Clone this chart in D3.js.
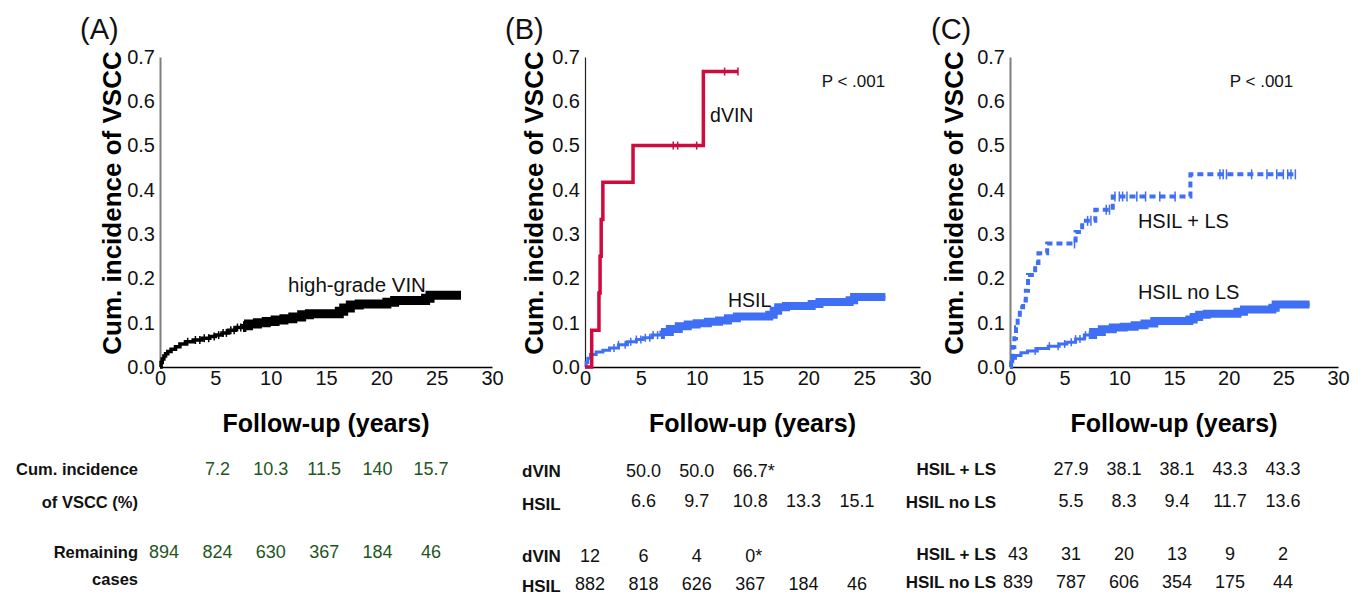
<!DOCTYPE html>
<html>
<head>
<meta charset="utf-8">
<script src="https://cdn.jsdelivr.net/npm/d3@7"></script>
<style>
  body { margin: 0; background: #fff; }
  svg text { font-family: "Liberation Sans", Arial, sans-serif; }
</style>
</head>
<body>
<svg id="chart" width="1363" height="595"></svg>
<script>
// ---- data ----
const yTicks = [0, 0.1, 0.2, 0.3, 0.4, 0.5, 0.6, 0.7];
const xTicks = [0, 5, 10, 15, 20, 25, 30];
const tableYears = [0, 5, 10, 15, 20, 25];

// (A) high-grade VIN, [years, cumulative incidence]
const hgvinSteps = [[0,0],[0.1,0.01],[0.2,0.018],[0.35,0.025],[0.5,0.03],[0.7,0.035],[1,0.04],[1.4,0.046],
  [1.8,0.052],[2.3,0.057],[3,0.061],[3.8,0.065],[4.5,0.069],[5,0.072],[5.6,0.077],[6.2,0.083],[6.8,0.089],
  [7.4,0.093],[8,0.097],[8.8,0.1],[9.6,0.103],[10.4,0.106],[11.2,0.109],[12,0.113],[12.8,0.118],[13.5,0.12],
  [16.2,0.126],[16.6,0.133],[17.2,0.14],[18,0.142],[20.5,0.146],[21.2,0.15],[24,0.155],[24.4,0.162],[27.2,0.162]];
const hgvinCensor = [2.5, 3.2, 3.6, 4.0, 4.4, 4.9, 5.3, 5.7, 6.0, 6.4, 6.7, 7.0, 7.3];
const hgvinDense = [7.5, 27.2];

// (B) dVIN and HSIL
const dvinSteps = [[0,0],[0.6,0.083],[1.25,0.167],[1.35,0.25],[1.45,0.333],[1.6,0.417],[4.3,0.5],[10.6,0.667],[13.7,0.667]];
const dvinCensor = [1.3, 7.9, 8.3, 10.0, 12.5, 13.7];
const hsilSteps = [[0,0],[0.1,0.01],[0.25,0.02],[0.5,0.028],[1,0.034],[1.6,0.038],[2.2,0.043],[3,0.05],[3.8,0.057],
  [4.6,0.062],[5.2,0.066],[6,0.072],[6.8,0.079],[7.6,0.086],[8.4,0.092],[9.2,0.096],[10,0.099],[11,0.102],[12,0.105],
  [12.8,0.11],[13.6,0.114],[16.5,0.118],[16.9,0.127],[17.3,0.135],[18,0.138],[20.3,0.142],[21,0.147],[23.7,0.151],
  [24.1,0.158],[26.9,0.158]];
const hsilCensor = [2.6, 3.0, 3.6, 4.1, 4.6, 5.0, 5.4, 5.8, 6.1, 6.5];
const hsilDense = [6.8, 26.9];

// (C) HSIL with / without lichen sclerosus
const lsSteps = [[0,0],[0.1,0.02],[0.25,0.045],[0.4,0.065],[0.55,0.09],[0.7,0.11],[0.9,0.135],[1.2,0.15],[1.45,0.172],
  [1.65,0.208],[2.3,0.235],[2.6,0.257],[3.4,0.279],[6.0,0.305],[6.6,0.33],[7.8,0.355],[9.4,0.385],[16.5,0.435],[26.1,0.435]];
const lsCensor = [5.9, 7.1, 7.4, 8.8, 9.1, 9.6, 10.0, 10.3, 10.7, 11.6, 12.4, 13.7, 15.1,
  19.2, 19.5, 19.8, 22.1, 23.5, 24.4, 25.0, 25.4, 25.7, 26.1];
const noLsSteps = [[0,0],[0.1,0.012],[0.25,0.02],[0.5,0.026],[1,0.032],[1.6,0.036],[2.5,0.042],[3.5,0.047],[4.5,0.052],
  [5.2,0.056],[6,0.063],[6.8,0.072],[7.6,0.079],[8.4,0.085],[9.4,0.089],[10.4,0.091],[11.4,0.094],[12.3,0.098],
  [13.2,0.104],[16.4,0.107],[16.8,0.113],[17.3,0.118],[18,0.12],[20.8,0.125],[21.4,0.13],[24,0.134],[24.3,0.141],[27.4,0.141]];
const noLsCensor = [2.3, 3.6, 4.4, 5.0, 5.6, 6.0, 6.4, 6.9];
const noLsDense = [7.2, 27.4];

// tables under the plots
const aIncidence = [null, "7.2", "10.3", "11.5", "140", "15.7"];
const aRemaining = ["894", "824", "630", "367", "184", "46"];
const bIncDvin = [null, "50.0", "50.0", "66.7*", null, null];
const bIncHsil = [null, "6.6", "9.7", "10.8", "13.3", "15.1"];
const bRemDvin = ["12", "6", "4", "0*", null, null];
const bRemHsil = ["882", "818", "626", "367", "184", "46"];
const cIncLs = [null, "27.9", "38.1", "38.1", "43.3", "43.3"];
const cIncNoLs = [null, "5.5", "8.3", "9.4", "11.7", "13.6"];
const cRemLs = ["43", "31", "20", "13", "9", "2"];
const cRemNoLs = ["839", "787", "606", "354", "175", "44"];

const red = "#cf0a3c", blue = "#3f6ff4", green = "#1e561e";

const svg = d3.select("#chart");

const valueAt = (steps, t) => {
  const i = d3.bisector(d => d[0]).right(steps, t) - 1;
  return steps[Math.max(0, i)][1];
};

let clipId = 0;
function drawCurve(g, x, y, c) {
  const line = d3.line().x(d => x(d[0])).y(d => y(d[1])).curve(d3.curveStepAfter);
  g.append("path")
    .datum(c.steps)
    .attr("d", line)
    .attr("fill", "none")
    .attr("stroke", c.color)
    .attr("stroke-width", c.width)
    .attr("stroke-dasharray", c.dash || null);

  if (c.dense) {
    const id = "clip" + (clipId++);
    svg.append("clipPath").attr("id", id)
      .append("rect")
      .attr("x", x(c.dense[0])).attr("width", x(c.dense[1]) - x(c.dense[0]) + 1)
      .attr("y", 0).attr("height", 595);
    g.append("path")
      .datum(c.steps)
      .attr("d", line)
      .attr("fill", "none")
      .attr("stroke", c.color)
      .attr("stroke-width", c.band)
      .attr("clip-path", "url(#" + id + ")");
  }

  g.selectAll(null)
    .data(c.censor || [])
    .join("line")
    .attr("x1", d => x(d)).attr("x2", d => x(d))
    .attr("y1", d => y(valueAt(c.steps, d)) - c.tick)
    .attr("y2", d => y(valueAt(c.steps, d)) + c.tick)
    .attr("stroke", c.color)
    .attr("stroke-width", 1.5);
}

function drawPanel(p) {
  const x = d3.scaleLinear().domain([0, 30]).range([p.x0, p.x1]);
  const y = d3.scaleLinear().domain([0, 0.7]).range([367, 57]);
  const g = svg.append("g");

  const yAxis = g.append("g")
    .attr("transform", "translate(" + p.x0 + ",0)")
    .call(d3.axisLeft(y).tickValues(yTicks).tickFormat(d3.format(".1f")).tickSize(0).tickPadding(5));
  yAxis.select(".domain").attr("stroke", p.axisColor).attr("stroke-width", p.axisW);
  yAxis.selectAll("text").attr("font-size", 20).attr("fill", "#111")
    .style("font-family", '"Liberation Sans", Arial, sans-serif');

  const xAxis = g.append("g")
    .attr("transform", "translate(0," + y(0) + ")")
    .call(d3.axisBottom(x).tickValues(xTicks).tickSize(0).tickPadding(4));
  xAxis.select(".domain").attr("stroke", "#000").attr("stroke-width", 1.5);
  xAxis.selectAll("text").attr("font-size", 20).attr("fill", "#111")
    .style("font-family", '"Liberation Sans", Arial, sans-serif');

  g.append("text").attr("x", p.titleX).attr("y", 39)
    .attr("font-size", 29).attr("fill", "#111").text("(" + p.key + ")");

  g.append("text")
    .attr("transform", "translate(" + p.ylabX + ",203) rotate(-90)")
    .attr("text-anchor", "middle").attr("font-size", 26).attr("font-weight", "bold")
    .text("Cum. incidence of VSCC");

  g.append("text")
    .attr("x", (p.x0 + p.x1) / 2).attr("y", 432)
    .attr("text-anchor", "middle").attr("font-size", 25).attr("font-weight", "bold")
    .text("Follow-up (years)");

  p.curves.forEach(c => drawCurve(g, x, y, c));

  p.notes.forEach(n => {
    g.append("text").attr("x", x(n.t)).attr("y", y(n.v))
      .attr("text-anchor", n.anchor || "start").attr("font-size", n.size).attr("fill", "#111")
      .text(n.text);
  });

  // table
  const col = d3.scaleLinear().domain([0, 25]).range(p.cols);
  p.rows.forEach(r => {
    if (r.label) {
      r.label.forEach((l, i) => {
        g.append("text").attr("x", p.labelX).attr("y", r.y + i * (r.gap || 0) + (r.ldy || 0))
          .attr("text-anchor", p.labelAnchor).attr("font-size", p.labelSize).attr("font-weight", "bold")
          .attr("fill", "#111").text(l);
      });
    }
    r.vals.forEach((v, i) => {
      if (v == null) return;
      const star = v.endsWith("*");
      const num = star ? v.slice(0, -1) : v;
      const t = g.append("text").attr("x", col(tableYears[i])).attr("y", r.y)
        .attr("text-anchor", "middle").attr("font-size", 18).attr("fill", p.valColor).text(num);
      if (star) {
        const w = t.node().getComputedTextLength();
        g.append("text").attr("x", col(tableYears[i]) + w / 2).attr("y", r.y)
          .attr("font-size", 18).attr("fill", p.valColor).text("*");
      }
    });
  });
}

const panels = [
  {
    key: "A", x0: 160, x1: 492, axisColor: "#7f7f7f", axisW: 2, titleX: 80, ylabX: 121,
    curves: [{ steps: hgvinSteps, color: "#000", width: 3.5, censor: hgvinCensor, tick: 4, dense: hgvinDense, band: 9 }],
    notes: [{ text: "high-grade VIN", t: 17.8, v: 0.169, anchor: "middle", size: 20.5 }],
    cols: [164, 431], valColor: green, labelX: 138, labelAnchor: "end", labelSize: 16.5,
    rows: [
      { vals: aIncidence, y: 475, label: ["Cum. incidence", "of VSCC (%)"], gap: 33 },
      { vals: aRemaining, y: 558, label: ["Remaining", "cases"], gap: 27 }
    ]
  },
  {
    key: "B", x0: 585, x1: 920, axisColor: "#222", axisW: 1.2, titleX: 505, ylabX: 543,
    curves: [
      { steps: hsilSteps, color: blue, width: 3, censor: hsilCensor, tick: 4, dense: hsilDense, band: 8 },
      { steps: dvinSteps, color: red, width: 3.5, censor: dvinCensor, tick: 4 }
    ],
    notes: [
      { text: "dVIN", t: 11.2, v: 0.553, size: 19.5 },
      { text: "HSIL", t: 12.8, v: 0.135, size: 19.5 },
      { text: "P < .001", t: 21.2, v: 0.632, size: 17 }
    ],
    cols: [590, 857], valColor: "#111", labelX: 522, labelAnchor: "start", labelSize: 17,
    rows: [
      { vals: bIncDvin, y: 477, label: ["dVIN"] },
      { vals: bIncHsil, y: 507, label: ["HSIL"], ldy: 3 },
      { vals: bRemDvin, y: 562, label: ["dVIN"] },
      { vals: bRemHsil, y: 590, label: ["HSIL"], ldy: 2 }
    ]
  },
  {
    key: "C", x0: 1010, x1: 1338, axisColor: "#7f7f7f", axisW: 2, titleX: 931, ylabX: 963,
    curves: [
      { steps: noLsSteps, color: blue, width: 3, censor: noLsCensor, tick: 4, dense: noLsDense, band: 8 },
      { steps: lsSteps, color: blue, width: 4, dash: "6,4", censor: lsCensor, tick: 5 }
    ],
    notes: [
      { text: "P < .001", t: 20.1, v: 0.632, size: 17 },
      { text: "HSIL + LS", t: 11.7, v: 0.314, size: 20 },
      { text: "HSIL no LS", t: 11.7, v: 0.153, size: 20 }
    ],
    cols: [1018, 1283], valColor: "#111", labelX: 996, labelAnchor: "end", labelSize: 17,
    rows: [
      { vals: cIncLs, y: 475, label: ["HSIL + LS"] },
      { vals: cIncNoLs, y: 507, label: ["HSIL no LS"], ldy: 1 },
      { vals: cRemLs, y: 560, label: ["HSIL + LS"] },
      { vals: cRemNoLs, y: 588, label: ["HSIL no LS"] }
    ]
  }
];

panels.forEach(drawPanel);
</script>
</body>
</html>
